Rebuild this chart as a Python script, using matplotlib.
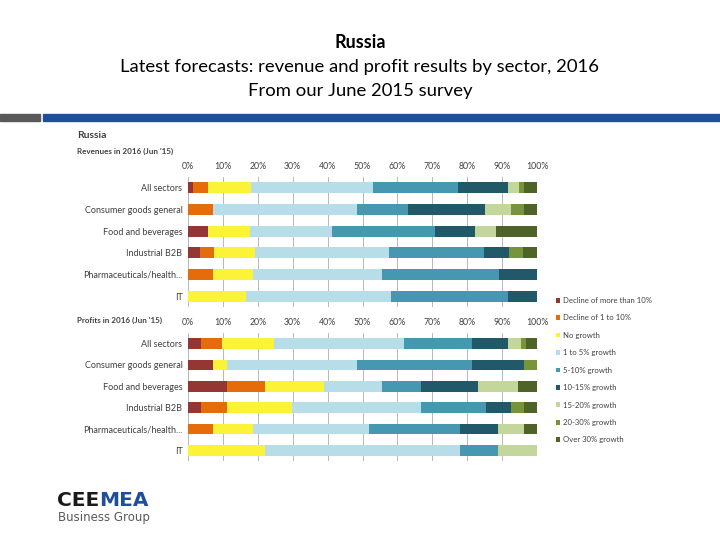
import numpy as np
import matplotlib.pyplot as plt
from matplotlib.patches import Rectangle, Patch

plt.rcParams['font.family'] = ['Lato', 'DejaVu Sans']

sectors = ["All sectors", "Consumer goods general", "Food and beverages",
           "Industrial B2B", "Pharmaceuticals/health...", "IT"]

categories = ["Decline of more than 10%", "Decline of 1 to 10%", "No growth",
              "1 to 5% growth", "5-10% growth", "10-15% growth",
              "15-20% growth", "20-30% growth", "Over 30% growth"]

colors = ["#943634", "#E46C0A", "#FAF337", "#B7DDE8", "#4598B0",
          "#215968", "#C3D69B", "#77933C", "#4F6228"]

# rows: sectors, columns: categories (percent of respondents)
revenues = np.array([
    [1.3, 4.5, 12.3, 35.0, 24.4, 14.2, 3.1, 1.4, 3.8],
    [0.0, 7.3, 0.0, 41.0, 14.6, 22.3, 7.4, 3.6, 3.8],
    [5.7, 0.0, 12.0, 23.5, 29.6, 11.5, 5.9, 0.0, 11.8],
    [3.5, 4.0, 11.8, 38.4, 27.0, 7.4, 0.0, 3.9, 4.0],
    [0.0, 7.3, 11.3, 37.1, 33.4, 10.9, 0.0, 0.0, 0.0],
    [0.0, 0.0, 16.7, 41.6, 33.4, 8.3, 0.0, 0.0, 0.0],
])

profits = np.array([
    [3.6, 6.1, 14.8, 37.5, 19.3, 10.4, 3.7, 1.5, 3.1],
    [7.3, 0.0, 3.8, 37.2, 33.1, 14.8, 0.0, 3.8, 0.0],
    [11.1, 11.1, 16.8, 16.7, 11.0, 16.5, 11.3, 0.0, 5.5],
    [3.6, 7.5, 18.7, 37.0, 18.6, 7.2, 0.0, 3.6, 3.8],
    [0.0, 7.3, 11.3, 33.2, 26.2, 10.9, 7.5, 0.0, 3.6],
    [0.0, 0.0, 22.2, 55.8, 10.9, 0.0, 11.1, 0.0, 0.0],
])

ticks = np.arange(0, 101, 10)
tick_labels = [f"{t}%" for t in ticks]

fig = plt.figure(figsize=(7.2, 5.4), dpi=100)

# title block
fig.text(0.5, 1 - 43 / 540, "Russia", ha='center', va='center', fontsize=13, fontweight='bold')
fig.text(0.5, 1 - 67 / 540, "Latest forecasts: revenue and profit results by sector, 2016",
         ha='center', va='center', fontsize=13.3)
fig.text(0.5, 1 - 91 / 540, "From our June 2015 survey", ha='center', va='center', fontsize=13.3)

# separator bar
fig.patches.append(Rectangle((0, 1 - 121 / 540), 40 / 720, 7 / 540, transform=fig.transFigure,
                             color="#595959", zorder=0))
fig.patches.append(Rectangle((43 / 720, 1 - 121 / 540), 677 / 720, 7 / 540, transform=fig.transFigure,
                             color="#1F4E9C", zorder=0))

fig.text(77 / 720, 1 - 136 / 540, "Russia", ha='left', va='center', fontsize=7.5, fontweight='bold',
         color="#404040")
fig.text(77 / 720, 1 - 151 / 540, "Revenues in 2016 (Jun '15)", ha='left', va='center', fontsize=5.8,
         fontweight='bold', color="#404040")


def draw_panel(ax, data):
    y = np.arange(len(sectors))
    left = np.zeros(len(sectors))
    for j in range(len(categories)):
        ax.barh(y, data[:, j], left=left, height=0.5, color=colors[j], zorder=2)
        left += data[:, j]
    ax.set_xlim(0, 100)
    ax.set_ylim(len(sectors) - 0.5, -0.5)
    ax.set_yticks(y)
    ax.set_yticklabels(sectors, fontsize=6.5, color="#404040")
    ax.set_xticks(ticks)
    ax.set_xticklabels(tick_labels, fontsize=6.3, color="#404040")
    ax.xaxis.tick_top()
    ax.tick_params(length=0, pad=4)
    ax.grid(axis='x', color="#ADADAD", linewidth=0.6, zorder=0)
    for s in ax.spines.values():
        s.set_visible(False)


ax1 = fig.add_axes([188 / 720, 1 - 307 / 540, 349 / 720, 130 / 540])
draw_panel(ax1, revenues)

ax2 = fig.add_axes([188 / 720, 1 - 461 / 540, 349 / 720, 128 / 540])
draw_panel(ax2, profits)
fig.text(77 / 720, 1 - 320 / 540, "Profits in 2016 (Jun '15)", ha='left', va='center', fontsize=5.8,
         fontweight='bold', color="#404040")

handles = [Patch(facecolor=c) for c in colors]
fig.legend(handles, categories, loc='upper left', bbox_to_anchor=(549 / 720, 1 - 290 / 540),
           frameon=False, fontsize=5.6, handlelength=0.55, handleheight=0.55, handletextpad=0.4,
           labelspacing=1.34, labelcolor="#404040")

# logo
cee = fig.text(57 / 720, 1 - 506 / 540, "CEE", ha='left', va='baseline', fontsize=14.5,
               fontweight='bold', family='DejaVu Sans', color="#1A1A1A")
fig.canvas.draw()
bb = cee.get_window_extent()
fig.text(bb.x1 / 720, 1 - 506 / 540, "MEA", ha='left', va='baseline', fontsize=14.5,
         fontweight='bold', family='DejaVu Sans', color="#1F4E9C")
fig.text(58 / 720, 1 - 521 / 540, "Business Group", ha='left', va='baseline', fontsize=8.5,
         family='DejaVu Sans', color="#595959")

fig.savefig("out.png", dpi=100)
